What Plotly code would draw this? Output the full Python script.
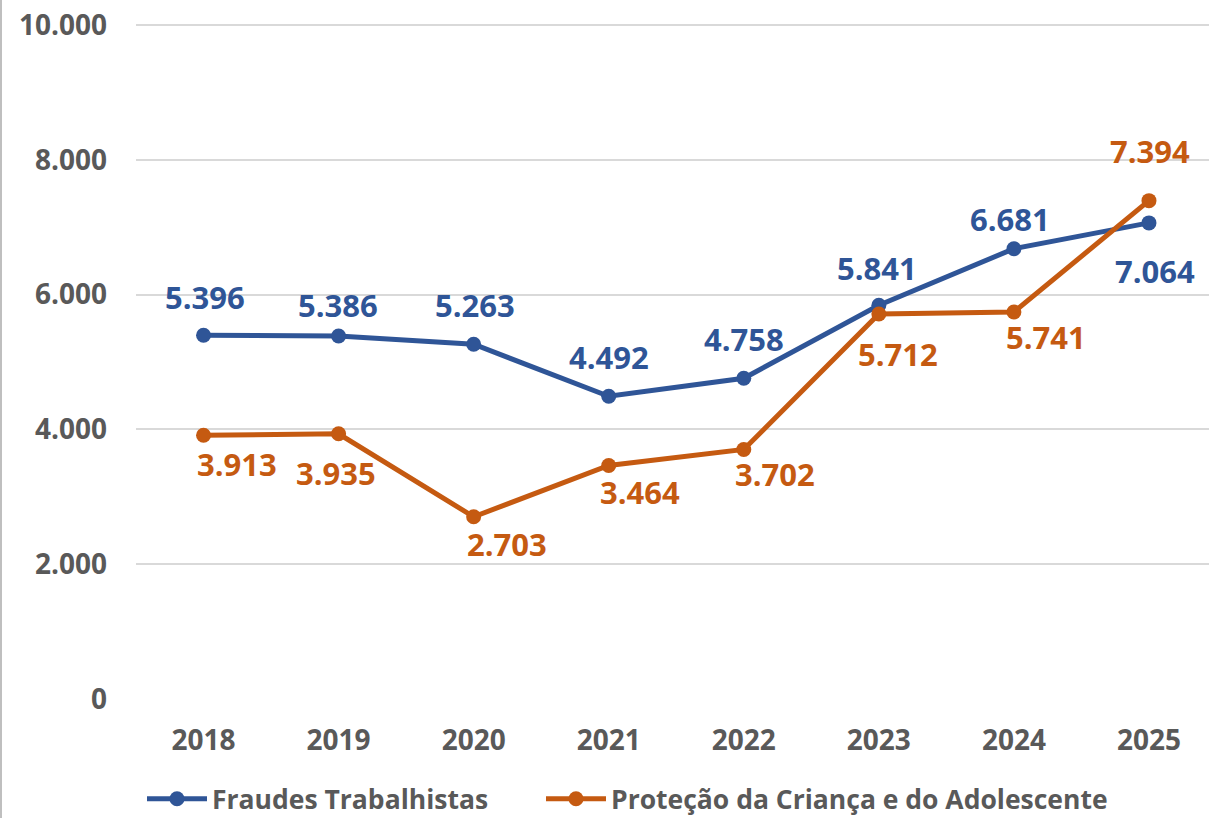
import plotly.graph_objects as go

years = ["2018", "2019", "2020", "2021", "2022", "2023", "2024", "2025"]
fraudes = [5396, 5386, 5263, 4492, 4758, 5841, 6681, 7064]
protecao = [3913, 3935, 2703, 3464, 3702, 5712, 5741, 7394]
y_ticks = [0, 2000, 4000, 6000, 8000, 10000]

# label offsets (pixels) relative to each point
fraudes_dx = [1, -1, 1, 0, 0, -2, -4, 6]
fraudes_dy = [38, 31, 39, 39, 39, 37, 30, -48]
protecao_dx = [33, -3, 33, 31, 31, 19, 32, 1]
protecao_dy = [-29, -39, -27, -26, -25, -40, -25, 50]

BLUE = "#2F5597"
ORANGE = "#C55A11"
GRAY = "#595959"
FONT = "Open Sans"


def fmt(v):
    return f"{v:,}".replace(",", ".")


fig = go.Figure()
fig.add_trace(go.Scatter(
    x=years, y=fraudes, mode="lines+markers",
    name="<b>Fraudes Trabalhistas</b>",
    line=dict(color=BLUE, width=5),
    marker=dict(color=BLUE, size=15),
    cliponaxis=False, legend="legend",
))
fig.add_trace(go.Scatter(
    x=years, y=protecao, mode="lines+markers",
    name="<b>Proteção da Criança e do Adolescente</b>",
    line=dict(color=ORANGE, width=5),
    marker=dict(color=ORANGE, size=15),
    cliponaxis=False, legend="legend2",
))

# category axis: annotation x given as category index
for series, dxs, dys, color in ((fraudes, fraudes_dx, fraudes_dy, BLUE),
                                (protecao, protecao_dx, protecao_dy, ORANGE)):
    for i, (v, dx, dy) in enumerate(zip(series, dxs, dys)):
        fig.add_annotation(x=i, y=v, xref="x", yref="y",
                           text="<b>" + fmt(v) + "</b>", showarrow=False,
                           xshift=dx, yshift=dy,
                           font=dict(color=color, size=31, family=FONT))

plot_w = 1209 - 136
fig.add_shape(type="line", xref="paper", yref="paper",
              x0=-135 / plot_w, x1=-135 / plot_w, y0=-0.3, y1=1.1,
              line=dict(color="#BFBFBF", width=2))

legend_font = dict(size=26.5, color=GRAY, family=FONT)
legend_y = (818 - 799) / 818
fig.update_layout(
    width=1209, height=818,
    margin=dict(l=136, r=0, t=20, b=119),
    paper_bgcolor="white", plot_bgcolor="white",
    font=dict(family=FONT, color=GRAY),
    showlegend=True,
    legend=dict(orientation="h", x=6 / plot_w, xanchor="left",
                yref="container", y=legend_y, yanchor="middle",
                font=legend_font, itemwidth=60, bgcolor="rgba(0,0,0,0)"),
    legend2=dict(orientation="h", x=(548 - 7 - 136) / plot_w, xanchor="left",
                 yref="container", y=legend_y, yanchor="middle",
                 font=legend_font, itemwidth=60, bgcolor="rgba(0,0,0,0)"),
    xaxis=dict(type="category", range=[-0.5, 7.5 - 7.5 / 135],
               showgrid=False, zeroline=False, showline=False,
               tickfont=dict(size=28, color=GRAY, family=FONT, weight="bold"),
               ticklabelstandoff=22, ticks=""),
    yaxis=dict(range=[0, 10074], tickvals=y_ticks, ticktext=[fmt(v) for v in y_ticks],
               showgrid=True, gridcolor="#D9D9D9", gridwidth=2, zeroline=False,
               showline=False, ticks="",
               tickfont=dict(size=28, color=GRAY, family=FONT, weight="bold"),
               ticklabelstandoff=28),
)

fig.write_html("out.html", config={"displayModeBar": False},
               post_script="document.body.style.margin='0';document.body.style.overflow='hidden';")
